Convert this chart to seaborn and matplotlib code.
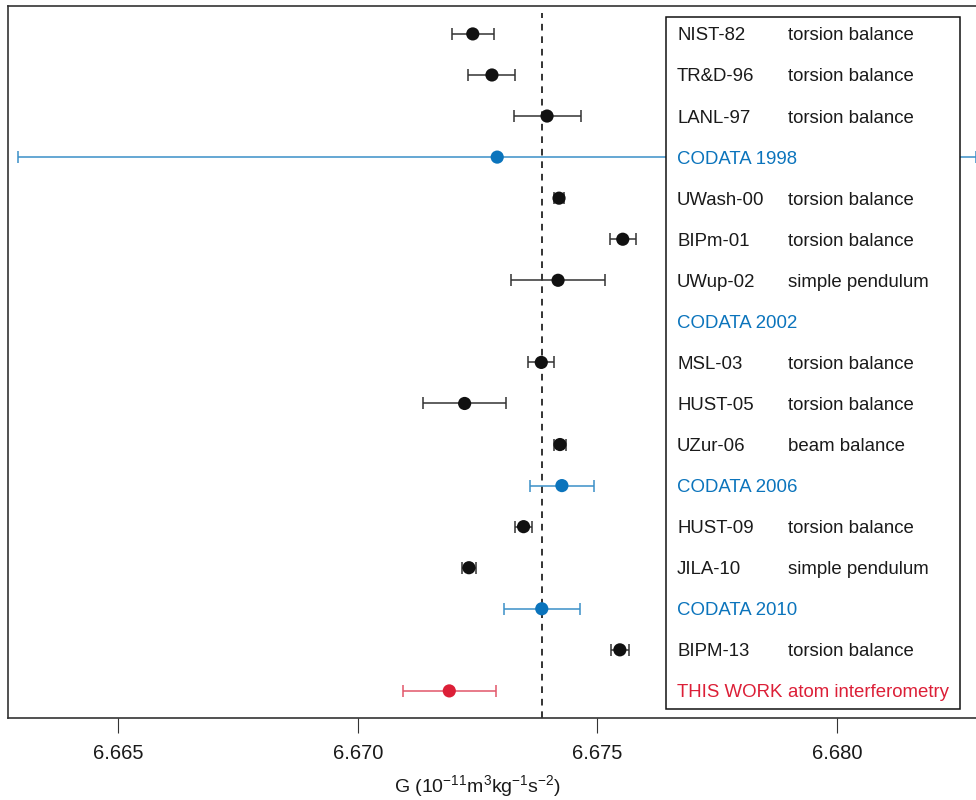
import numpy as np
import pandas as pd
import matplotlib
matplotlib.use('Agg')
import matplotlib.pyplot as plt
import matplotlib.transforms as mtransforms
from matplotlib.patches import Rectangle
import seaborn as sns

# values (units of 1e-11 m^3 kg^-1 s^-2)
labels = ['NIST-82', 'TR&D-96', 'LANL-97', 'CODATA 1998', 'UWash-00', 'BIPm-01',
          'UWup-02', 'CODATA 2002', 'MSL-03', 'HUST-05', 'UZur-06', 'CODATA 2006',
          'HUST-09', 'JILA-10', 'CODATA 2010', 'BIPM-13', 'THIS WORK']
methods = ['torsion balance', 'torsion balance', 'torsion balance', '',
           'torsion balance', 'torsion balance', 'simple pendulum', '',
           'torsion balance', 'torsion balance', 'beam balance', '',
           'torsion balance', 'simple pendulum', '', 'torsion balance',
           'atom interferometry']
g_values = [6.67240, 6.67280, 6.67395, 6.67291, 6.67420, 6.67553,
            6.67418, np.nan, 6.67383, 6.67223, 6.67422, 6.67426,
            6.67346, 6.67232, 6.67384, 6.67547, 6.67191]
g_errors = [0.00044, 0.00049, 0.00070, 0.01000, 0.00010, 0.00027,
            0.00098, np.nan, 0.00027, 0.00087, 0.00012, 0.00067,
            0.00018, 0.00014, 0.00079, 0.00019, 0.00097]
kinds = ['exp', 'exp', 'exp', 'codata', 'exp', 'exp', 'exp', 'codata',
         'exp', 'exp', 'exp', 'codata', 'exp', 'exp', 'codata', 'exp', 'this']
codata_2010 = 6.67384
xticks = [6.665, 6.670, 6.675, 6.680]

df = pd.DataFrame({'label': labels, 'method': methods, 'G': g_values,
                   'err': g_errors, 'kind': kinds})
df['row'] = np.arange(len(df))

marker_col = {'exp': '#111111', 'codata': '#0b74bc', 'this': '#dc1f37'}
bar_col = {'exp': '#333333', 'codata': '#3b8fc8', 'this': '#e2566a'}
text_col = {'exp': '#1a1a1a', 'codata': '#0b74bc', 'this': '#dc1f37'}

sns.set_style('white')
plt.rcParams['font.family'] = ['Liberation Sans', 'DejaVu Sans']
plt.rcParams['mathtext.default'] = 'regular'

fig = plt.figure(figsize=(9.76, 8.0), dpi=100)
# axes runs slightly past the right edge, as in the cropped original
ax = fig.add_axes([7.5 / 976, 82 / 800, 977.5 / 976, 712 / 800])

# error bars
for k, sub in df.groupby('kind'):
    ax.errorbar(sub['G'], sub['row'], xerr=sub['err'], fmt='none',
                ecolor=bar_col[k], elinewidth=1.1, capsize=4.2, capthick=1.1,
                zorder=2)

# points
sns.scatterplot(data=df.dropna(), x='G', y='row', hue='kind', palette=marker_col,
                s=90, edgecolor='none', legend=False, ax=ax, zorder=3)

ax.axvline(codata_2010, ymax=0.99, color='#111111', lw=1.2, ls=(0, (4, 3.5)),
           zorder=1)

ax.set_xlim(6.66269, 6.68309)
ax.set_ylim(16.66, -0.68)
ax.set_yticks([])
ax.set_ylabel('')
ax.set_xticks(xticks)
ax.set_xticklabels([f'{t:.3f}' for t in xticks], fontsize=14.5, color='#1a1a1a')
ax.tick_params(axis='x', direction='out', length=11, width=0.8, color='#333333',
               pad=8, bottom=True)
ax.set_xlabel('G (10$^{-11}$m$^{3}$kg$^{-1}$s$^{-2}$)', fontsize=14,
              color='#1a1a1a')
ax.xaxis.set_label_coords(0.481, -0.077)
for s in ax.spines.values():
    s.set_color('#333333')
    s.set_linewidth(1.2)

# label box on the right
trans = mtransforms.blended_transform_factory(ax.transAxes, ax.transData)
box = Rectangle((0.6737, -0.42), 0.9744 - 0.6737, 16.44 + 0.42, transform=trans,
                facecolor='white', edgecolor='#111111', lw=1.1, zorder=4)
ax.add_patch(box)
for _, r in df.iterrows():
    ax.text(0.685, r['row'], r['label'], transform=trans, fontsize=13.4,
            color=text_col[r['kind']], va='center_baseline', zorder=5)
    if r['method']:
        ax.text(0.7985, r['row'], r['method'], transform=trans, fontsize=13.4,
                color=text_col[r['kind']], va='center_baseline', zorder=5)

fig.savefig('out.png', dpi=100)
